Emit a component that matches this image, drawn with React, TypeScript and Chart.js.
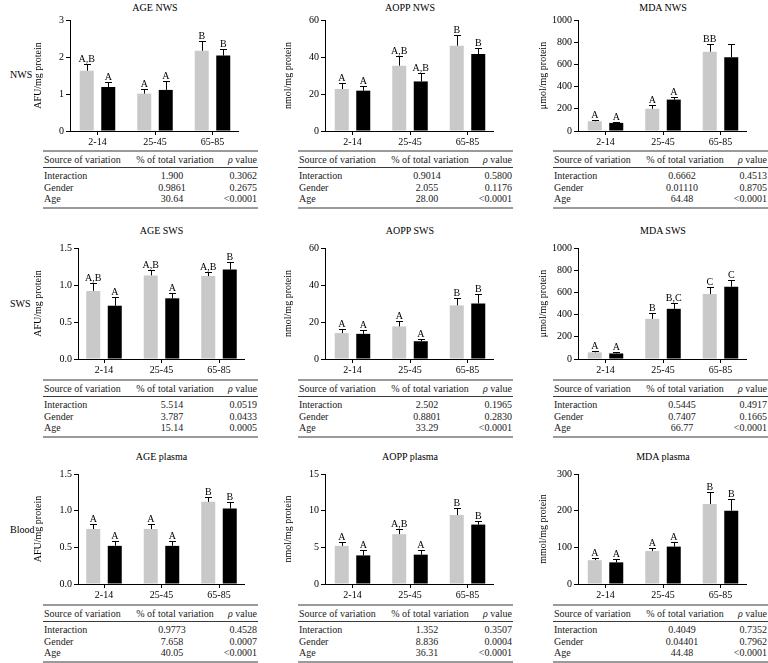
import React, { useEffect, useRef } from 'react';
import { Chart, registerables } from 'chart.js';

Chart.register(...registerables);

const FONT = "'Liberation Serif', 'Times New Roman', serif";
const GRAY = '#c9c9c9';
const BLACK = '#000000';

// ---------- data ----------
const categories = ['2-14', '25-45', '65-85'];
const rowLabels = ['NWS', 'SWS', 'Blood'];
const statHeaders = ['Source of variation', '% of total variation', 'value'];
const statSources = ['Interaction', 'Gender', 'Age'];

// AGE NWS
const ageNwsGray = [1.63, 1.01, 2.17];
const ageNwsGrayErr = [0.17, 0.12, 0.26];
const ageNwsBlack = [1.19, 1.11, 2.04];
const ageNwsBlackErr = [0.13, 0.24, 0.18];
const ageNwsGrayLetters = ['A,B', 'A', 'B'];
const ageNwsBlackLetters = ['A', 'A', 'B'];
const ageNwsTicks = ['0', '1', '2', '3'];
const ageNwsPct = ['1.900', '0.9861', '30.64'];
const ageNwsP = ['0.3062', '0.2675', '<0.0001'];

// AOPP NWS
const aoppNwsGray = [22.7, 35.3, 46.1];
const aoppNwsGrayErr = [3.1, 5.2, 5.8];
const aoppNwsBlack = [21.8, 26.8, 41.6];
const aoppNwsBlackErr = [2.5, 4.7, 3.1];
const aoppNwsGrayLetters = ['A', 'A,B', 'B'];
const aoppNwsBlackLetters = ['A', 'A,B', 'B'];
const aoppNwsTicks = ['0', '20', '40', '60'];
const aoppNwsPct = ['0.9014', '2.055', '28.00'];
const aoppNwsP = ['0.5800', '0.1176', '<0.0001'];

// MDA NWS
const mdaNwsGray = [88, 200, 715];
const mdaNwsGrayErr = [15, 35, 65];
const mdaNwsBlack = [73, 283, 665];
const mdaNwsBlackErr = [12, 22, 115];
const mdaNwsGrayLetters = ['A', 'A', 'BB'];
const mdaNwsBlackLetters = ['A', 'A', ''];
const mdaNwsTicks = ['0', '200', '400', '600', '800', '1000'];
const mdaNwsPct = ['0.6662', '0.01110', '64.48'];
const mdaNwsP = ['0.4513', '0.8705', '<0.0001'];

// AGE SWS
const ageSwsGray = [0.92, 1.13, 1.12];
const ageSwsGrayErr = [0.11, 0.07, 0.05];
const ageSwsBlack = [0.72, 0.82, 1.21];
const ageSwsBlackErr = [0.12, 0.07, 0.1];
const ageSwsGrayLetters = ['A,B', 'A,B', 'A,B'];
const ageSwsBlackLetters = ['A', 'A', 'B'];
const ageSwsTicks = ['0.0', '0.5', '1.0', '1.5'];
const ageSwsPct = ['5.514', '3.787', '15.14'];
const ageSwsP = ['0.0519', '0.0433', '0.0005'];

// AOPP SWS
const aoppSwsGray = [14, 17.6, 29];
const aoppSwsGrayErr = [2, 2.8, 3.8];
const aoppSwsBlack = [13.6, 9.6, 30];
const aoppSwsBlackErr = [2.2, 1.3, 4.9];
const aoppSwsGrayLetters = ['A', 'A', 'B'];
const aoppSwsBlackLetters = ['A', 'A', 'B'];
const aoppSwsTicks = ['0', '20', '40', '60'];
const aoppSwsPct = ['2.502', '0.8801', '33.29'];
const aoppSwsP = ['0.1965', '0.2830', '<0.0001'];

// MDA SWS
const mdaSwsGray = [60, 362, 585];
const mdaSwsGrayErr = [12, 55, 65];
const mdaSwsBlack = [50, 452, 652];
const mdaSwsBlackErr = [12, 57, 58];
const mdaSwsGrayLetters = ['A', 'B', 'C'];
const mdaSwsBlackLetters = ['A', 'B,C', 'C'];
const mdaSwsTicks = ['0', '200', '400', '600', '800', '1000'];
const mdaSwsPct = ['0.5445', '0.7407', '66.77'];
const mdaSwsP = ['0.4917', '0.1665', '<0.0001'];

// AGE plasma
const agePlasmaGray = [0.75, 0.75, 1.12];
const agePlasmaGrayErr = [0.07, 0.07, 0.07];
const agePlasmaBlack = [0.52, 0.52, 1.03];
const agePlasmaBlackErr = [0.06, 0.06, 0.09];
const agePlasmaGrayLetters = ['A', 'A', 'B'];
const agePlasmaBlackLetters = ['A', 'A', 'B'];
const agePlasmaTicks = ['0.0', '0.5', '1.0', '1.5'];
const agePlasmaPct = ['0.9773', '7.658', '40.05'];
const agePlasmaP = ['0.4528', '0.0007', '<0.0001'];

// AOPP plasma
const aoppPlasmaGray = [5.2, 6.8, 9.4];
const aoppPlasmaGrayErr = [0.5, 0.65, 1.0];
const aoppPlasmaBlack = [3.9, 4.0, 8.1];
const aoppPlasmaBlackErr = [0.8, 0.6, 0.45];
const aoppPlasmaGrayLetters = ['A', 'A,B', 'B'];
const aoppPlasmaBlackLetters = ['A', 'A', 'B'];
const aoppPlasmaTicks = ['0', '5', '10', '15'];
const aoppPlasmaPct = ['1.352', '8.836', '36.31'];
const aoppPlasmaP = ['0.3507', '0.0004', '<0.0001'];

// MDA plasma
const mdaPlasmaGray = [65, 90, 218];
const mdaPlasmaGrayErr = [7, 7, 34];
const mdaPlasmaBlack = [59, 102, 200];
const mdaPlasmaBlackErr = [8, 12, 32];
const mdaPlasmaGrayLetters = ['A', 'A', 'B'];
const mdaPlasmaBlackLetters = ['A', 'A', 'B'];
const mdaPlasmaTicks = ['0', '100', '200', '300'];
const mdaPlasmaPct = ['0.4049', '0.04401', '44.48'];
const mdaPlasmaP = ['0.7352', '0.7962', '<0.0001'];

const panels = [
  { title: 'AGE NWS', yTitle: 'AFU/mg protein', gray: ageNwsGray, grayErr: ageNwsGrayErr, black: ageNwsBlack, blackErr: ageNwsBlackErr, grayLetters: ageNwsGrayLetters, blackLetters: ageNwsBlackLetters, ticks: ageNwsTicks, pct: ageNwsPct, p: ageNwsP },
  { title: 'AOPP NWS', yTitle: 'nmol/mg protein', gray: aoppNwsGray, grayErr: aoppNwsGrayErr, black: aoppNwsBlack, blackErr: aoppNwsBlackErr, grayLetters: aoppNwsGrayLetters, blackLetters: aoppNwsBlackLetters, ticks: aoppNwsTicks, pct: aoppNwsPct, p: aoppNwsP },
  { title: 'MDA NWS', yTitle: 'μmol/mg protein', gray: mdaNwsGray, grayErr: mdaNwsGrayErr, black: mdaNwsBlack, blackErr: mdaNwsBlackErr, grayLetters: mdaNwsGrayLetters, blackLetters: mdaNwsBlackLetters, ticks: mdaNwsTicks, pct: mdaNwsPct, p: mdaNwsP },
  { title: 'AGE SWS', yTitle: 'AFU/mg protein', gray: ageSwsGray, grayErr: ageSwsGrayErr, black: ageSwsBlack, blackErr: ageSwsBlackErr, grayLetters: ageSwsGrayLetters, blackLetters: ageSwsBlackLetters, ticks: ageSwsTicks, pct: ageSwsPct, p: ageSwsP },
  { title: 'AOPP SWS', yTitle: 'nmol/mg protein', gray: aoppSwsGray, grayErr: aoppSwsGrayErr, black: aoppSwsBlack, blackErr: aoppSwsBlackErr, grayLetters: aoppSwsGrayLetters, blackLetters: aoppSwsBlackLetters, ticks: aoppSwsTicks, pct: aoppSwsPct, p: aoppSwsP },
  { title: 'MDA SWS', yTitle: 'μmol/mg protein', gray: mdaSwsGray, grayErr: mdaSwsGrayErr, black: mdaSwsBlack, blackErr: mdaSwsBlackErr, grayLetters: mdaSwsGrayLetters, blackLetters: mdaSwsBlackLetters, ticks: mdaSwsTicks, pct: mdaSwsPct, p: mdaSwsP },
  { title: 'AGE plasma', yTitle: 'AFU/mg protein', gray: agePlasmaGray, grayErr: agePlasmaGrayErr, black: agePlasmaBlack, blackErr: agePlasmaBlackErr, grayLetters: agePlasmaGrayLetters, blackLetters: agePlasmaBlackLetters, ticks: agePlasmaTicks, pct: agePlasmaPct, p: agePlasmaP },
  { title: 'AOPP plasma', yTitle: 'nmol/mg protein', gray: aoppPlasmaGray, grayErr: aoppPlasmaGrayErr, black: aoppPlasmaBlack, blackErr: aoppPlasmaBlackErr, grayLetters: aoppPlasmaGrayLetters, blackLetters: aoppPlasmaBlackLetters, ticks: aoppPlasmaTicks, pct: aoppPlasmaPct, p: aoppPlasmaP },
  { title: 'MDA plasma', yTitle: 'mmol/mg protein', gray: mdaPlasmaGray, grayErr: mdaPlasmaGrayErr, black: mdaPlasmaBlack, blackErr: mdaPlasmaBlackErr, grayLetters: mdaPlasmaGrayLetters, blackLetters: mdaPlasmaBlackLetters, ticks: mdaPlasmaTicks, pct: mdaPlasmaPct, p: mdaPlasmaP },
];

// ---------- layout ----------
const SPACING = 57.5;
const PAD_TOP = 12;
const X_AXIS_H = 18;
const ROW_AXIS_TOP = [20, 248, 474];
const ROW_AXIS_BOTTOM = [131, 359, 584];
const ROW_TITLE_Y = [8, 231, 457];
const ROW_TABLE_TOP = [151, 380, 605];
const COL_CANVAS_LEFT = [25, 275, 530];
const COL_TABLE_LEFT = [43, 298, 553];
const TABLE_W = 215;
const TEXT_SIZE = 10;

function axisXFor(r: number, c: number) {
  if (c === 0) return r === 0 ? 70 : 78;
  return c === 1 ? 325 : 578;
}
function center0For(r: number, c: number) {
  if (c === 0) return r === 0 ? 97.5 : 104;
  return c === 1 ? 352.5 : 605.5;
}

const errorBarPlugin = {
  id: 'errorBars',
  afterDatasetsDraw(chart: any) {
    const ctx = chart.ctx;
    const yScale = chart.scales.y;
    chart.data.datasets.forEach((ds: any, d: number) => {
      const meta = chart.getDatasetMeta(d);
      meta.data.forEach((bar: any, i: number) => {
        const val = ds.data[i].y;
        const err = ds.errors[i];
        const x = Math.round(bar.x) + 0.5;
        const yTop = bar.y;
        const yErr = Math.round(yScale.getPixelForValue(val + err)) + 0.5;
        ctx.save();
        ctx.strokeStyle = '#000';
        ctx.lineWidth = 1;
        ctx.beginPath();
        ctx.moveTo(x, yTop);
        ctx.lineTo(x, yErr);
        ctx.moveTo(x - 3.5, yErr);
        ctx.lineTo(x + 3.5, yErr);
        ctx.stroke();
        const letter = ds.letters[i];
        if (letter) {
          ctx.fillStyle = '#000';
          ctx.font = `10px ${FONT}`;
          ctx.textAlign = 'center';
          ctx.textBaseline = 'alphabetic';
          ctx.fillText(letter, bar.x, yErr - 3);
        }
        ctx.restore();
      });
    });
  },
};

function Panel({ spec, r, c }: any) {
  const ref = useRef<HTMLCanvasElement | null>(null);
  const axisX = axisXFor(r, c);
  const center0 = center0For(r, c);
  const canvasLeft = COL_CANVAS_LEFT[c];
  const axisRight = center0 + 2 * SPACING + 26;
  const width = Math.round(axisRight - canvasLeft);
  const height = ROW_AXIS_BOTTOM[r] - ROW_AXIS_TOP[r] + PAD_TOP + X_AXIS_H;
  const top = ROW_AXIS_TOP[r] - PAD_TOP;
  const yW = axisX - canvasLeft;
  const xMin = (axisX - center0) / SPACING;
  const xMax = (canvasLeft + width - center0) / SPACING;
  const yMax = parseFloat(spec.ticks[spec.ticks.length - 1]);

  useEffect(() => {
    if (!ref.current) return;
    const tickFont = { family: FONT, size: 10 };
    const chart = new Chart(ref.current, {
      type: 'bar',
      data: {
        datasets: [
          {
            label: 'gray',
            data: spec.gray.map((y: number, i: number) => ({ x: i, y })),
            backgroundColor: GRAY,
            borderWidth: 0,
            categoryPercentage: 0.748,
            barPercentage: 0.651,
            errors: spec.grayErr,
            letters: spec.grayLetters,
          } as any,
          {
            label: 'black',
            data: spec.black.map((y: number, i: number) => ({ x: i, y })),
            backgroundColor: BLACK,
            borderWidth: 0,
            categoryPercentage: 0.748,
            barPercentage: 0.651,
            errors: spec.blackErr,
            letters: spec.blackLetters,
          } as any,
        ],
      },
      options: {
        responsive: false,
        animation: false,
        devicePixelRatio: 1,
        layout: { padding: { top: PAD_TOP, left: 0, right: 0, bottom: 0 } },
        plugins: {
          legend: { display: false },
          tooltip: { enabled: false },
          title: { display: false },
        },
        scales: {
          x: {
            type: 'linear',
            min: xMin,
            max: xMax,
            offset: false,
            afterBuildTicks: (s: any) => {
              s.ticks = categories.map((_, i) => ({ value: i }));
            },
            afterFit: (s: any) => {
              s.height = X_AXIS_H;
            },
            grid: { display: true, drawOnChartArea: false, drawTicks: true, tickLength: 4, color: '#000', lineWidth: 1, offset: false },
            border: { display: true, color: '#000', width: 1 },
            ticks: {
              callback: (_v: any, i: number) => categories[i],
              font: tickFont,
              color: '#000',
              padding: 1,
              maxRotation: 0,
              minRotation: 0,
              autoSkip: false,
            },
          },
          y: {
            type: 'linear',
            min: 0,
            max: yMax,
            afterBuildTicks: (s: any) => {
              s.ticks = spec.ticks.map((t: string) => ({ value: parseFloat(t) }));
            },
            afterFit: (s: any) => {
              s.width = yW;
            },
            grid: { display: true, drawOnChartArea: false, drawTicks: true, tickLength: 4, color: '#000', lineWidth: 1 },
            border: { display: true, color: '#000', width: 1 },
            ticks: {
              callback: (_v: any, i: number) => spec.ticks[i],
              font: tickFont,
              color: '#000',
              padding: 2,
            },
            title: {
              display: true,
              text: spec.yTitle,
              font: { family: FONT, size: 10 },
              color: '#000',
              padding: { top: 7, bottom: 0 },
            },
          },
        },
      } as any,
      plugins: [errorBarPlugin],
    });
    return () => chart.destroy();
  }, []);

  const tableLeft = COL_TABLE_LEFT[c];
  const tableTop = ROW_TABLE_TOP[r];
  const textStyle: any = { position: 'absolute', whiteSpace: 'nowrap', lineHeight: '12px', height: 12 };
  const rowCenters = [25, 36.5, 48];

  return (
    <>
      <div
        style={{
          position: 'absolute',
          left: center0 + SPACING,
          top: ROW_TITLE_Y[r] - 7,
          transform: 'translateX(-50%)',
          whiteSpace: 'nowrap',
          lineHeight: '14px',
          fontSize: TEXT_SIZE,
          fontWeight: 'normal',
        }}
      >
        {spec.title}
      </div>
      <canvas
        ref={ref}
        width={width}
        height={height}
        style={{ position: 'absolute', left: canvasLeft, top, width, height }}
      />
      <div style={{ position: 'absolute', left: tableLeft, top: tableTop, width: TABLE_W, height: 58, fontSize: TEXT_SIZE, color: '#1a1a1a' }}>
        <div style={{ position: 'absolute', left: 0, top: -1, width: TABLE_W, height: 2, background: '#9a9a9a' }} />
        <div style={{ ...textStyle, left: 1, top: 9 - 6 }}>{statHeaders[0]}</div>
        <div style={{ ...textStyle, left: 132, top: 9 - 6, transform: 'translateX(-50%)' }}>{statHeaders[1]}</div>
        <div style={{ ...textStyle, right: 1, top: 9 - 6, textAlign: 'right' }}>
          <i>ρ</i> {statHeaders[2]}
        </div>
        <div style={{ position: 'absolute', left: 0, top: 16, width: TABLE_W, height: 1, background: '#3a3a3a' }} />
        {statSources.map((src, i) => (
          <React.Fragment key={src}>
            <div style={{ ...textStyle, left: 1, top: rowCenters[i] - 6 }}>{src}</div>
            <div style={{ ...textStyle, left: 129, top: rowCenters[i] - 6, transform: 'translateX(-50%)' }}>{spec.pct[i]}</div>
            <div style={{ ...textStyle, right: 1, top: rowCenters[i] - 6, textAlign: 'right' }}>{spec.p[i]}</div>
          </React.Fragment>
        ))}
        <div style={{ position: 'absolute', left: 0, top: 56, width: TABLE_W, height: 2, background: '#9a9a9a' }} />
      </div>
    </>
  );
}

export default function App() {
  const rowLabelY = [75, 304, 530];
  return (
    <div
      style={{
        position: 'absolute',
        left: 0,
        top: 0,
        width: 768,
        height: 663,
        overflow: 'hidden',
        background: '#fff',
        fontFamily: FONT,
        color: '#000',
      }}
    >
      {rowLabels.map((lbl, r) => (
        <div
          key={lbl}
          style={{ position: 'absolute', left: 10, top: rowLabelY[r] - 7, lineHeight: '14px', fontSize: TEXT_SIZE, whiteSpace: 'nowrap' }}
        >
          {lbl}
        </div>
      ))}
      {panels.map((spec, idx) => (
        <Panel key={spec.title} spec={spec} r={Math.floor(idx / 3)} c={idx % 3} />
      ))}
    </div>
  );
}
